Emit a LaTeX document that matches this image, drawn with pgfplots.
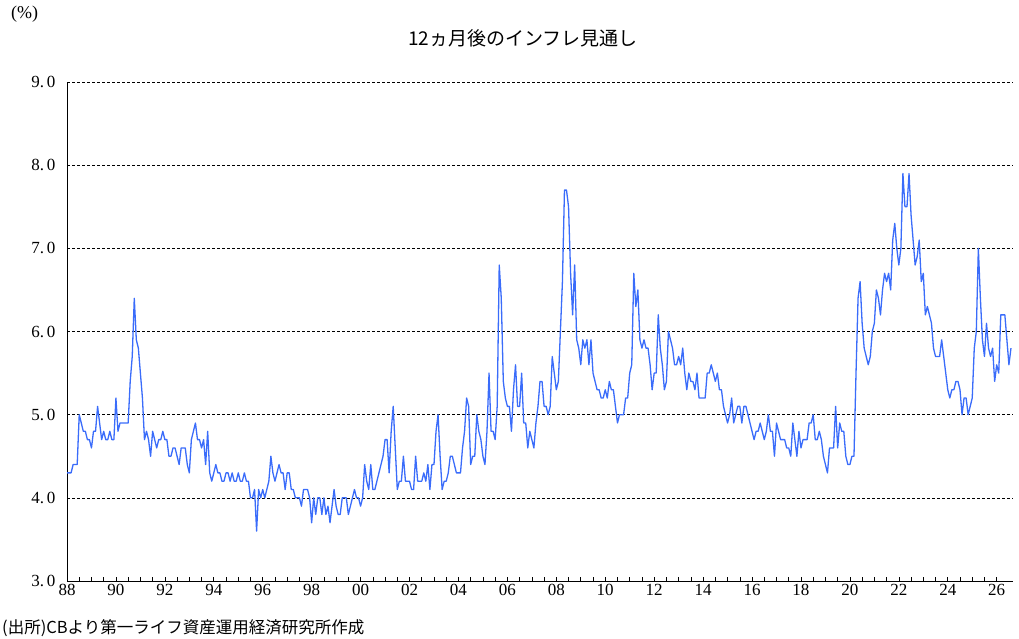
\documentclass[border=0pt]{standalone}
\usepackage{fontspec}
\setmainfont{Liberation Serif}
\newfontfamily\jp{Noto Sans CJK JP}
\usepackage{pgfplots}
\usepackage{pgfplotstable}
\pgfplotsset{compat=1.18}
\definecolor{lineblue}{RGB}{58,108,250}
\pgfplotstableread[row sep=\\]{
v\\
4.3\\4.3\\4.3\\4.4\\4.4\\4.4\\5.0\\4.9\\4.8\\4.8\\
4.7\\4.7\\4.6\\4.8\\4.8\\5.1\\4.9\\4.7\\4.8\\4.7\\
4.7\\4.8\\4.7\\4.7\\5.2\\4.8\\4.9\\4.9\\4.9\\4.9\\
4.9\\5.4\\5.7\\6.4\\5.9\\5.8\\5.5\\5.2\\4.7\\4.8\\
4.7\\4.5\\4.8\\4.7\\4.6\\4.7\\4.7\\4.8\\4.7\\4.7\\
4.5\\4.5\\4.6\\4.6\\4.5\\4.4\\4.6\\4.6\\4.6\\4.4\\
4.3\\4.7\\4.8\\4.9\\4.7\\4.7\\4.6\\4.7\\4.4\\4.8\\
4.3\\4.2\\4.3\\4.4\\4.3\\4.3\\4.2\\4.2\\4.3\\4.3\\
4.2\\4.3\\4.2\\4.2\\4.3\\4.2\\4.2\\4.3\\4.2\\4.2\\
4.0\\4.0\\4.1\\3.6\\4.1\\4.0\\4.1\\4.0\\4.1\\4.2\\
4.5\\4.3\\4.2\\4.3\\4.4\\4.3\\4.3\\4.1\\4.3\\4.3\\
4.1\\4.1\\4.0\\4.0\\4.0\\3.9\\4.1\\4.1\\4.1\\4.0\\
3.7\\4.0\\3.8\\4.0\\4.0\\3.8\\4.0\\3.8\\3.9\\3.7\\
3.9\\4.1\\3.9\\3.8\\3.8\\4.0\\4.0\\4.0\\3.8\\3.9\\
4.0\\4.1\\4.0\\4.0\\3.9\\4.0\\4.4\\4.2\\4.1\\4.4\\
4.1\\4.1\\4.2\\4.3\\4.4\\4.5\\4.7\\4.7\\4.3\\4.8\\
5.1\\4.6\\4.1\\4.2\\4.2\\4.5\\4.2\\4.2\\4.2\\4.1\\
4.1\\4.5\\4.2\\4.2\\4.2\\4.3\\4.2\\4.4\\4.1\\4.4\\
4.4\\4.8\\5.0\\4.5\\4.1\\4.2\\4.2\\4.3\\4.5\\4.5\\
4.4\\4.3\\4.3\\4.3\\4.6\\4.8\\5.2\\5.1\\4.4\\4.5\\
4.5\\5.0\\4.8\\4.7\\4.5\\4.4\\4.8\\5.5\\4.8\\4.8\\
4.7\\5.1\\6.8\\6.4\\5.4\\5.2\\5.1\\5.1\\4.8\\5.3\\
5.6\\5.1\\5.1\\5.5\\4.9\\4.9\\4.6\\4.8\\4.7\\4.6\\
4.9\\5.1\\5.4\\5.4\\5.1\\5.1\\5.0\\5.1\\5.7\\5.5\\
5.3\\5.4\\6.0\\6.6\\7.7\\7.7\\7.5\\6.7\\6.2\\6.8\\
5.9\\5.8\\5.6\\5.9\\5.8\\5.9\\5.6\\5.9\\5.5\\5.4\\
5.3\\5.3\\5.2\\5.2\\5.3\\5.2\\5.4\\5.3\\5.3\\5.1\\
4.9\\5.0\\5.0\\5.0\\5.2\\5.2\\5.5\\5.6\\6.7\\6.3\\
6.5\\5.9\\5.8\\5.9\\5.8\\5.8\\5.6\\5.3\\5.5\\5.5\\
6.2\\5.8\\5.6\\5.3\\5.4\\6.0\\5.9\\5.8\\5.6\\5.6\\
5.7\\5.6\\5.8\\5.5\\5.3\\5.5\\5.4\\5.4\\5.3\\5.5\\
5.2\\5.2\\5.2\\5.2\\5.5\\5.5\\5.6\\5.5\\5.4\\5.5\\
5.3\\5.3\\5.1\\5.0\\4.9\\5.0\\5.2\\4.9\\5.0\\5.1\\
5.1\\4.9\\5.1\\5.1\\5.0\\4.9\\4.8\\4.7\\4.8\\4.8\\
4.9\\4.8\\4.7\\4.8\\5.0\\4.8\\4.8\\4.5\\4.9\\4.8\\
4.7\\4.7\\4.7\\4.6\\4.6\\4.5\\4.9\\4.7\\4.5\\4.8\\
4.6\\4.7\\4.7\\4.7\\4.9\\4.9\\5.0\\4.7\\4.7\\4.8\\
4.7\\4.5\\4.4\\4.3\\4.6\\4.6\\4.6\\5.1\\4.6\\4.9\\
4.8\\4.8\\4.5\\4.4\\4.4\\4.5\\4.5\\5.5\\6.4\\6.6\\
6.1\\5.8\\5.7\\5.6\\5.7\\6.0\\6.1\\6.5\\6.4\\6.2\\
6.5\\6.7\\6.6\\6.7\\6.5\\7.1\\7.3\\7.0\\6.8\\7.0\\
7.9\\7.5\\7.5\\7.9\\7.4\\7.1\\6.8\\6.9\\7.1\\6.6\\
6.7\\6.2\\6.3\\6.2\\6.1\\5.8\\5.7\\5.7\\5.7\\5.9\\
5.7\\5.5\\5.3\\5.2\\5.3\\5.3\\5.4\\5.4\\5.3\\5.0\\
5.2\\5.2\\5.0\\5.1\\5.2\\5.8\\6.0\\7.0\\6.4\\5.9\\
5.7\\6.1\\5.8\\5.7\\5.8\\5.4\\5.6\\5.5\\6.2\\6.2\\
6.2\\5.9\\5.6\\5.8\\
}\infl
\begin{document}
\begin{tikzpicture}[x=1pt,y=1pt]
\path[use as bounding box] (0,0) rectangle (1019,638);
\begin{axis}[
  at={(67pt,57pt)}, anchor=south west,
  scale only axis, width=946pt, height=499pt,
  xmin=0, xmax=464, ymin=3, ymax=9,
  axis x line*=bottom, axis y line*=left,
  axis line style={-, black, line width=0.8pt},
  xtick={0,24,...,456},
  xticklabels={88,90,92,94,96,98,00,02,04,06,08,10,12,14,16,18,20,22,24,26},
  minor x tick num=3,
  ytick={3,4,5,6,7,8,9},
  yticklabels={3.\,0,4.\,0,5.\,0,6.\,0,7.\,0,8.\,0,9.\,0},
  tick align=inside,
  major tick length=4pt, minor tick length=4pt,
  xtick style={black, line width=0.6pt},
  ytick style={draw=none},
  ymajorgrids=true,
  major grid style={black, line width=0.6pt, dash pattern=on 3pt off 2pt},
  tick label style={font=\fontsize{17}{20}\selectfont, text=black},
  yticklabel style={xshift=-8pt},
  xticklabel style={yshift=0pt},
  clip=false,
]
\addplot[lineblue, line width=1.3pt, line join=round, mark=none]
  table[x expr=\coordindex, y=v] {\infl};
\end{axis}
\node[anchor=west, font=\fontsize{18}{21}\selectfont, inner sep=0pt] at (11,624) {(\%)};
\node[font=\jp\fontsize{19}{23}\selectfont] at (523,600) {12ヵ月後のインフレ見通し};
\node[anchor=west, font=\jp\fontsize{16.5}{20}\selectfont, inner sep=0pt] at (2,10) {(出所)CBより第一ライフ資産運用経済研究所作成};
\end{tikzpicture}
\end{document}
